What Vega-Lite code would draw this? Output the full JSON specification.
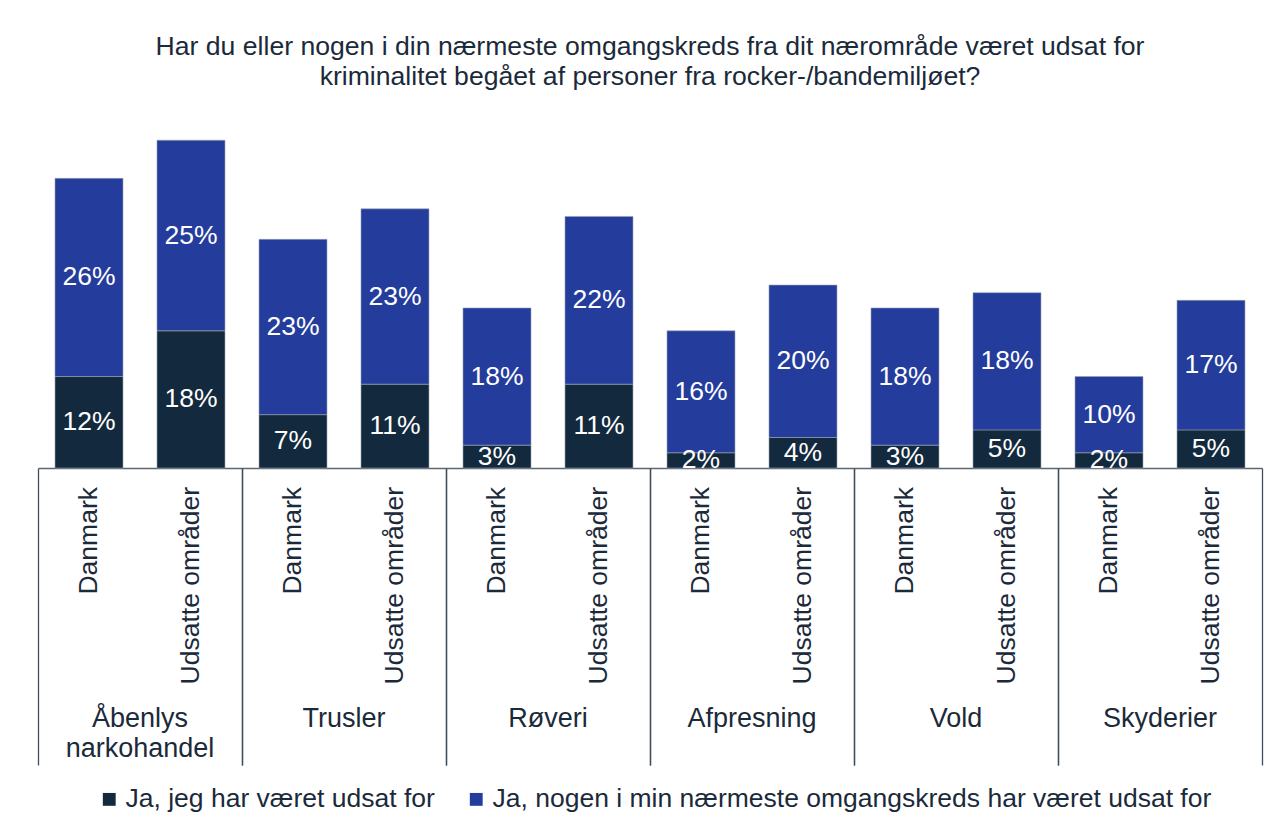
{
  "$schema": "https://vega.github.io/schema/vega-lite/v6.json",
  "width": 1224,
  "height": 343,
  "autosize": "none",
  "padding": {"left": 38, "top": 125, "right": 20, "bottom": 366},
  "background": "white",
  "config": {
    "font": "Liberation Sans",
    "view": {"stroke": null}
  },
  "title": {
    "text": ["Har du eller nogen i din nærmeste omgangskreds fra dit nærområde været udsat for", "kriminalitet begået af personer fra rocker-/bandemiljøet?"],
    "fontSize": 26.6,
    "fontWeight": "normal",
    "font": "Liberation Sans",
    "color": "#1b2a3a",
    "anchor": "middle",
    "lineHeight": 30,
    "offset": 34
  },
  "data": {
    "values": [
      {"group": "Åbenlys narkohandel", "region": "Danmark", "series": "Ja, jeg har været udsat for", "value": 0.12},
      {"group": "Åbenlys narkohandel", "region": "Danmark", "series": "Ja, nogen i min nærmeste omgangskreds har været udsat for", "value": 0.26},
      {"group": "Åbenlys narkohandel", "region": "Udsatte områder", "series": "Ja, jeg har været udsat for", "value": 0.18},
      {"group": "Åbenlys narkohandel", "region": "Udsatte områder", "series": "Ja, nogen i min nærmeste omgangskreds har været udsat for", "value": 0.25},
      {"group": "Trusler", "region": "Danmark", "series": "Ja, jeg har været udsat for", "value": 0.07},
      {"group": "Trusler", "region": "Danmark", "series": "Ja, nogen i min nærmeste omgangskreds har været udsat for", "value": 0.23},
      {"group": "Trusler", "region": "Udsatte områder", "series": "Ja, jeg har været udsat for", "value": 0.11},
      {"group": "Trusler", "region": "Udsatte områder", "series": "Ja, nogen i min nærmeste omgangskreds har været udsat for", "value": 0.23},
      {"group": "Røveri", "region": "Danmark", "series": "Ja, jeg har været udsat for", "value": 0.03},
      {"group": "Røveri", "region": "Danmark", "series": "Ja, nogen i min nærmeste omgangskreds har været udsat for", "value": 0.18},
      {"group": "Røveri", "region": "Udsatte områder", "series": "Ja, jeg har været udsat for", "value": 0.11},
      {"group": "Røveri", "region": "Udsatte områder", "series": "Ja, nogen i min nærmeste omgangskreds har været udsat for", "value": 0.22},
      {"group": "Afpresning", "region": "Danmark", "series": "Ja, jeg har været udsat for", "value": 0.02},
      {"group": "Afpresning", "region": "Danmark", "series": "Ja, nogen i min nærmeste omgangskreds har været udsat for", "value": 0.16},
      {"group": "Afpresning", "region": "Udsatte områder", "series": "Ja, jeg har været udsat for", "value": 0.04},
      {"group": "Afpresning", "region": "Udsatte områder", "series": "Ja, nogen i min nærmeste omgangskreds har været udsat for", "value": 0.20},
      {"group": "Vold", "region": "Danmark", "series": "Ja, jeg har været udsat for", "value": 0.03},
      {"group": "Vold", "region": "Danmark", "series": "Ja, nogen i min nærmeste omgangskreds har været udsat for", "value": 0.18},
      {"group": "Vold", "region": "Udsatte områder", "series": "Ja, jeg har været udsat for", "value": 0.05},
      {"group": "Vold", "region": "Udsatte områder", "series": "Ja, nogen i min nærmeste omgangskreds har været udsat for", "value": 0.18},
      {"group": "Skyderier", "region": "Danmark", "series": "Ja, jeg har været udsat for", "value": 0.02},
      {"group": "Skyderier", "region": "Danmark", "series": "Ja, nogen i min nærmeste omgangskreds har været udsat for", "value": 0.10},
      {"group": "Skyderier", "region": "Udsatte områder", "series": "Ja, jeg har været udsat for", "value": 0.05},
      {"group": "Skyderier", "region": "Udsatte områder", "series": "Ja, nogen i min nærmeste omgangskreds har været udsat for", "value": 0.17}
    ]
  },
  "resolve": {"axis": {"x": "independent"}},
  "layer": [
    {
      "mark": {"type": "bar", "stroke": "#9aa3b0", "strokeWidth": 0.6},
      "encoding": {
        "x": {
          "field": "group", "type": "nominal", "sort": null,
          "scale": {"paddingInner": 0, "paddingOuter": 0},
          "axis": {
            "orient": "bottom",
            "title": null,
            "bandPosition": 0,
            "tickSize": 297,
            "tickColor": "#3f4c5a",
            "tickWidth": 1.3,
            "domainColor": "#5d6773",
            "domainWidth": 1.3,
            "labelAngle": 0,
            "labelFontSize": 27,
            "labelColor": "#1b2a3a",
            "labelPadding": -60,
            "labelLineHeight": 30,
            "labelLimit": 0,
            "labelOverlap": false,
            "labelFlush": false,
            "labelExpr": "datum.label == 'Åbenlys narkohandel' ? ['Åbenlys', 'narkohandel'] : datum.label"
          }
        },
        "xOffset": {
          "field": "region", "type": "nominal", "sort": null,
          "scale": {"paddingInner": 0.3333, "paddingOuter": 0.1667}
        },
        "y": {
          "field": "value", "type": "quantitative", "stack": "zero",
          "scale": {"domain": [0, 0.45], "nice": false, "zero": true},
          "axis": null
        },
        "color": {
          "field": "series", "type": "nominal",
          "scale": {
            "domain": ["Ja, jeg har været udsat for", "Ja, nogen i min nærmeste omgangskreds har været udsat for"],
            "range": ["#13293d", "#243c9c"]
          },
          "legend": {
            "title": null,
            "orient": "none",
            "legendX": 58,
            "legendY": 661,
            "direction": "horizontal",
            "symbolType": "square",
            "symbolSize": 165,
            "symbolStrokeWidth": 0,
            "labelFontSize": 26.5,
            "labelColor": "#1b2a3a",
            "labelLimit": 0,
            "labelOffset": 3,
            "columnPadding": 28
          }
        },
        "order": {"field": "series", "sort": "ascending"}
      }
    },
    {
      "transform": [
        {"stack": "value", "groupby": ["group", "region"], "sort": [{"field": "series", "order": "ascending"}], "as": ["y0", "y1"]},
        {"fold": ["y0", "y1"], "as": ["edge", "pos"]},
        {"aggregate": [{"op": "mean", "field": "pos", "as": "mid"}, {"op": "max", "field": "value", "as": "value"}], "groupby": ["group", "region", "series"]}
      ],
      "mark": {"type": "text", "color": "white", "fontSize": 26.5, "baseline": "middle", "align": "center", "clip": true},
      "encoding": {
        "x": {"field": "group", "type": "nominal", "sort": null, "axis": null},
        "xOffset": {"field": "region", "type": "nominal", "sort": null},
        "y": {"field": "mid", "type": "quantitative"},
        "text": {"field": "value", "type": "quantitative", "format": ".0%"}
      }
    },
    {
      "transform": [{"filter": "datum.series == 'Ja, jeg har været udsat for'"}],
      "mark": {"type": "text", "angle": 270, "align": "right", "baseline": "middle", "dx": -19, "fontSize": 26.5, "color": "#1b2a3a"},
      "encoding": {
        "x": {
          "field": "group", "type": "nominal", "sort": null,
          "axis": {
            "orient": "bottom",
            "title": null,
            "bandPosition": 1,
            "tickSize": 297,
            "tickColor": "#3f4c5a",
            "tickWidth": 1.3,
            "domain": false,
            "labels": false
          }
        },
        "xOffset": {"field": "region", "type": "nominal", "sort": null},
        "y": {"datum": 0},
        "text": {"field": "region"}
      }
    }
  ]
}
